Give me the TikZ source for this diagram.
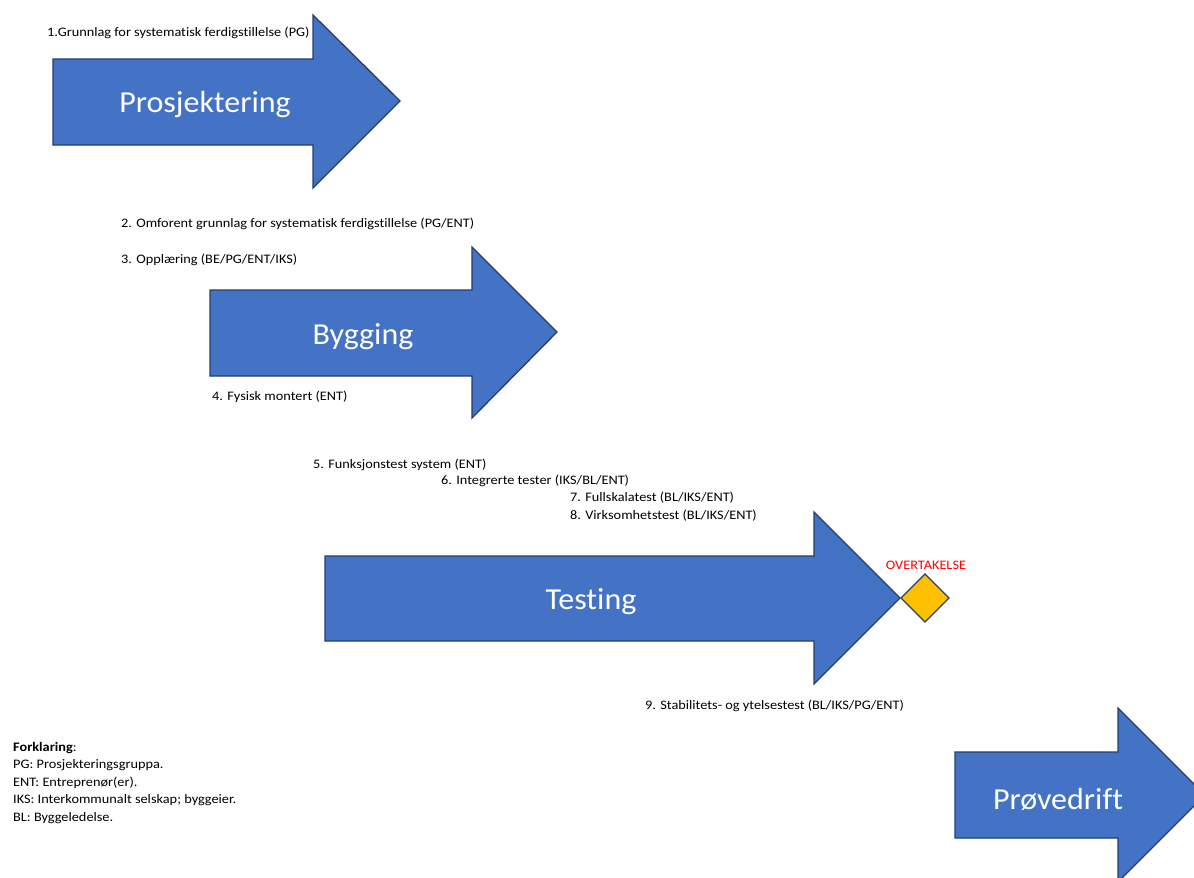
\documentclass[tikz,border=0pt]{standalone}
\usepackage{fontspec}
\setmainfont[Ligatures=NoCommon]{Carlito}
\newfontfamily\notefont[FakeStretch=1.1,Ligatures=NoCommon]{Carlito}
\newfontfamily\bigfont[FakeStretch=1.05,Ligatures=NoCommon]{Carlito}
\definecolor{arrowblue}{HTML}{4472C4}
\definecolor{arrowedge}{HTML}{243F6E}
\definecolor{gold}{HTML}{FFC000}
\definecolor{redtext}{HTML}{FF0000}
\begin{document}
\begin{tikzpicture}[x=1pt,y=-1pt,
  bigarrow/.style={fill=arrowblue,draw=arrowedge,line width=1.3pt,line join=miter},
  biglabel/.style={text=white,font=\bigfont\fontsize{30.5}{34}\selectfont,inner sep=0pt},
  note/.style={anchor=west,inner sep=0pt,font=\notefont\fontsize{13}{15}\selectfont},
  legend/.style={anchor=north west,inner sep=0pt,align=left,font=\notefont\fontsize{13}{17.5}\selectfont}]
\useasboundingbox (0,0) rectangle (1194,878);
\fill[white] (0,0) rectangle (1194,878);
\begin{scope}
\clip (0,0) rectangle (1194,878);
% Prosjektering
\draw[bigarrow] (53,59) -- (313,59) -- (313,15) -- (400,101) -- (313,188) -- (313,145) -- (53,145) -- cycle;
\node[biglabel] (p1) at (205,105) {Prosjektering};
% Bygging
\draw[bigarrow] (210,290) -- (472,290) -- (472,247) -- (557,332) -- (472,418) -- (472,376) -- (210,376) -- cycle;
\node[biglabel] (p2) at (363,337) {Bygging};
% Testing
\draw[bigarrow] (325,556) -- (814,556) -- (814,512) -- (900,598) -- (814,684) -- (814,641) -- (325,641) -- cycle;
\node[biglabel] (p3) at (591,602) {Testing};
% Provedrift
\draw[bigarrow] (955,752) -- (1118,752) -- (1118,708) -- (1205,795) -- (1118,882) -- (1118,838) -- (955,838) -- cycle;
\node[biglabel] (p4) at (1058,799) {Prøvedrift};
\end{scope}
% diamond
\draw[fill=gold,draw=arrowedge,line width=1.3pt] (901,598) -- (925,574) -- (949,598) -- (925,622) -- cycle;
\node[inner sep=0pt,text=redtext,font=\notefont\fontsize{13}{15}\selectfont] (ov) at (926,565) {OVERTAKELSE};
% notes
\node[note] (n1) at (47,32.5) {1.Grunnlag for systematisk ferdigstillelse (PG)};
\node[note] (n2) at (121,223.5) {2. Omforent grunnlag for systematisk ferdigstillelse (PG/ENT)};
\node[note] (n3) at (121,259.5) {3. Opplæring (BE/PG/ENT/IKS)};
\node[note] (n4) at (212,396.5) {4. Fysisk montert (ENT)};
\node[note] (n5) at (313,464.5) {5. Funksjonstest system (ENT)};
\node[note] (n6) at (441,480.5) {6. Integrerte tester (IKS/BL/ENT)};
\node[note] (n7) at (570,497.5) {7. Fullskalatest (BL/IKS/ENT)};
\node[note] (n8) at (570,515.5) {8. Virksomhetstest (BL/IKS/ENT)};
\node[note] (n9) at (645,705.5) {9. Stabilitets- og ytelsestest (BL/IKS/PG/ENT)};
% legend
\node[legend] (leg) at (13,742) {\textbf{Forklaring}:\\PG: Prosjekteringsgruppa.\\ENT: Entreprenør(er).\\IKS: Interkommunalt selskap; byggeier.\\BL: Byggeledelse.};
\end{tikzpicture}
\end{document}
